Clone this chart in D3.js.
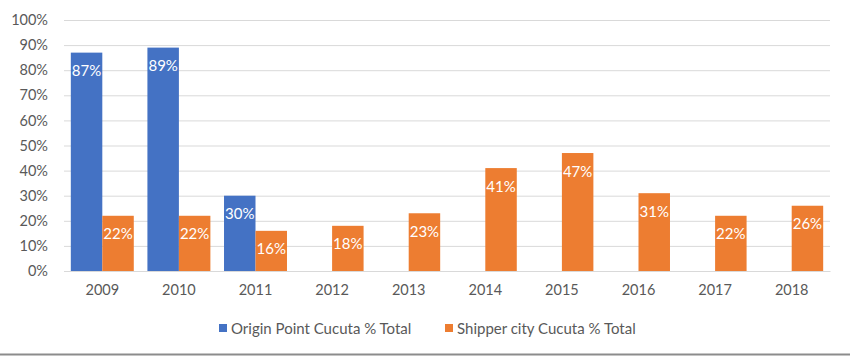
<!DOCTYPE html>
<html><head><meta charset="utf-8">
<script src="https://cdn.jsdelivr.net/npm/d3@7"></script>
<style>html,body{margin:0;padding:0;background:#fff;}svg{display:block;}</style>
</head><body>
<svg id="chart" width="850" height="356"></svg>
<script>
const years = ["2009","2010","2011","2012","2013","2014","2015","2016","2017","2018"];
const originPoint = [87, 89, 30, null, null, null, null, null, null, null];
const shipperCity = [22, 22, 16, 18, 23, 41, 47, 31, 22, 26];
const seriesNames = ["Origin Point Cucuta % Total", "Shipper city Cucuta % Total"];
const seriesColors = ["#4472C4", "#ED7D31"];
const yTicks = [0,10,20,30,40,50,60,70,80,90,100];

const svg = d3.select("#chart");
const font = "Lato, 'Open Sans', sans-serif";
const m = {left:64, right:20, top:20, bottom:85};
const W = 850, H = 356;
const x0 = d3.scaleBand().domain(years).range([m.left, W - m.right]).paddingInner(0.178).paddingOuter(0.089);
const x1 = d3.scaleBand().domain([0,1]).range([0, x0.bandwidth()]);
const y = d3.scaleLinear().domain([0,100]).range([H - m.bottom, m.top]);

// gridlines
const yAxis = d3.axisLeft(y).tickValues(yTicks).tickSize(-(W - m.left - m.right)).tickFormat(d => d + "%").tickPadding(16);
const gy = svg.append("g").attr("transform", `translate(${m.left},0)`).call(yAxis);
gy.select(".domain").remove();
gy.selectAll(".tick line").attr("stroke", "#D9D9D9").attr("stroke-width", 1);
gy.selectAll(".tick text").attr("fill", "#595959").style("font-family", font).style("font-size", "14.5px");

// bars
const series = [originPoint, shipperCity];
series.forEach((vals, si) => {
  const g = svg.append("g");
  years.forEach((yr, i) => {
    const v = vals[i];
    if (v == null) return;
    const bx = x0(yr) + x1(si);
    g.append("rect").attr("x", bx).attr("y", y(v)).attr("width", x1.bandwidth()).attr("height", y(0) - y(v)).attr("fill", seriesColors[si]);
    g.append("text").attr("x", bx + x1.bandwidth()/2).attr("y", y(v) + 23.5)
      .attr("text-anchor", "middle").attr("fill", "#fff")
      .style("font-family", font).style("font-size", "15px").text(v + "%");
  });
});

// x axis
const xAxis = d3.axisBottom(x0).tickSize(0).tickPadding(14);
const gx = svg.append("g").attr("transform", `translate(0,${y(0)})`).call(xAxis);
gx.select(".domain").attr("stroke", "#D9D9D9");
gx.selectAll(".tick text").attr("fill", "#595959").style("font-family", font).style("font-size", "14.5px");

// legend
const legendX = [219, 445];
seriesNames.forEach((n, i) => {
  svg.append("rect").attr("x", legendX[i]).attr("y", 324).attr("width", 8).attr("height", 8).attr("fill", seriesColors[i]);
  svg.append("text").attr("x", legendX[i] + 12).attr("y", 333.5).attr("fill", "#595959")
    .style("font-family", font).style("font-size", "15px").text(n);
});

// bottom rule
svg.append("line").attr("x1", 0).attr("x2", W).attr("y1", 354.5).attr("y2", 354.5).attr("stroke", "#8c8c8c").attr("stroke-width", 2);
</script>
</body></html>
